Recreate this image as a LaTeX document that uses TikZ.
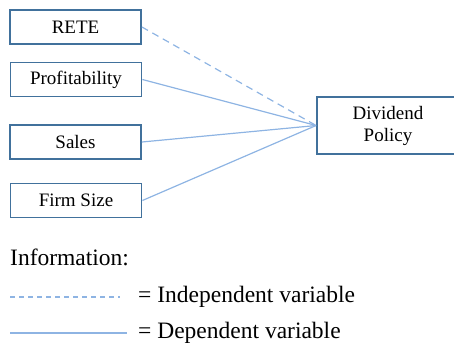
\documentclass[tikz,border=0pt]{standalone}
\usepackage{fontspec}
\setmainfont{Liberation Serif}
\definecolor{boxblue}{HTML}{41719C}
\definecolor{linkblue}{HTML}{8EB4E3}
\tikzset{ b/.style = { rectangle
                       , draw = boxblue
                       , line width   = 1.8pt
                       , inner sep    = 0pt
                       , minimum width  = 131pt
                       , minimum height = 34pt
                       , font = \fontsize{19}{22}\selectfont
                       },
            l/.style = { draw = linkblue
            , line width = 1.2pt
            },
            ld/.style = { l
            , dash pattern = on 7pt off 5pt
            },
            txt/.style = { anchor = west
            , inner sep = 0pt
            , font = \fontsize{23.5}{26}\selectfont
            }
          }
\begin{document}
\begin{tikzpicture}[x=1pt, y=-1pt]
        \useasboundingbox (0,0) rectangle (454,343);
        \node[b] (rete)   at (75.5,27)  {RETE};
        \node[b] (profit) at (76,79.5)  {Profitability};
        \node[b] (sales)  at (75.5,142) {Sales};
        \node[b] (size)   at (76,200.5) {Firm Size};
        \node[b, minimum width = 142pt, minimum height = 57pt,
              align = center] (div) at (388,125.5) {Dividend\\Policy};
        \draw[ld] (rete.east)   -- (div.west);
        \draw[l]  (profit.east) -- (div.west);
        \draw[l]  (sales.east)  -- (div.west);
        \draw[l]  (size.east)   -- (div.west);
        % legend
        \node[txt] (info) at (10,257) {Information:};
        \node[txt] (indep) at (138,297) {= Independent variable};
        \node[txt] (dep)   at (138,333) {= Dependent variable};
        \coordinate (i1) at (10,297);
        \coordinate (i2) at (120,297);
        \coordinate (d1) at (10,333);
        \coordinate (d2) at (127,333);
        \draw[l, dash pattern = on 5pt off 4pt] (i1) -- (i2);
        \draw[l] (d1) -- (d2);
\end{tikzpicture}
\end{document}
